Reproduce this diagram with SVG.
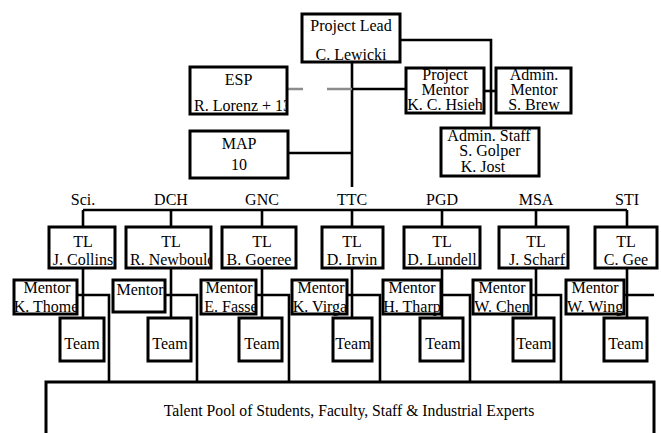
<svg xmlns="http://www.w3.org/2000/svg" width="661" height="433" viewBox="0 0 661 433">
  <style>
    .box { fill: #ffffff; stroke: none; }
    .frame { fill: none; stroke: #000000; stroke-width: 3; }
    .t { font-family: "Liberation Serif", "Times New Roman", serif; font-size: 16px; fill: #000000; text-anchor: middle; }
    .ts { text-anchor: start; }
    .ln { fill: none; stroke: #000000; stroke-width: 2.6; }
    .gray { fill: none; stroke: #8c8c8c; stroke-width: 2.6; }
  </style>
  <defs>
    <clipPath id="clip-esp"><rect x="191" y="68" width="95" height="45"/></clipPath>
    <clipPath id="clip-tl2"><rect x="127" y="228" width="83" height="39"/></clipPath>
  </defs>
  <rect width="661" height="433" fill="#ffffff"/>

  <!-- connectors -->
  <g id="connectors">
    <path class="ln" d="M400,40 H491 V128"/>
    <path class="ln" d="M352,62 V187"/>
    <path class="gray" d="M287,89 H303 M327,89 H352"/>
    <path class="ln" d="M352,89 H406"/>
    <path class="ln" d="M484,91 H496"/>
    <path class="ln" d="M288,153 H352"/>
    <!-- branch to the teams -->
    <path class="ln" d="M83,210 H627"/>
    <path class="ln" d="M83,210 V318 M171,210 V318 M262,210 V318 M352,210 V318 M442,210 V318 M536,210 V318 M627,210 V318"/>
    <!-- mentor links to the talent pool -->
    <path class="ln" d="M77,295 H109 V382 M165,295 H197 V382 M256,295 H289 V382 M347,295 H380 V382 M441,295 H470 V382 M531,295 H561 V382 M624,295 H654"/>
  </g>

  <!-- top level -->
  <g id="lead">
    <rect class="box" x="302" y="14" width="98" height="48"/>
    <text class="t" x="351" y="31">Project Lead</text>
    <text class="t" x="351" y="60">C. Lewicki</text>
    <rect class="frame" x="302" y="14" width="98" height="48"/>
  </g>
  <g id="esp">
    <rect class="box" x="190" y="67" width="97" height="47"/>
    <text class="t" x="238.5" y="85">ESP</text>
    <text class="t ts" x="194" y="111" clip-path="url(#clip-esp)">R. Lorenz + 13</text>
    <rect class="frame" x="190" y="67" width="97" height="47"/>
  </g>
  <g id="map">
    <rect class="box" x="190" y="131" width="98" height="47"/>
    <text class="t" x="239" y="149">MAP</text>
    <text class="t" x="239" y="170">10</text>
    <rect class="frame" x="190" y="131" width="98" height="47"/>
  </g>
  <g id="project-mentor">
    <rect class="box" x="406" y="68" width="78" height="45"/>
    <text class="t" x="445" y="80">Project</text>
    <text class="t" x="445" y="95">Mentor</text>
    <text class="t" x="445" y="110">K. C. Hsieh</text>
    <rect class="frame" x="406" y="68" width="78" height="45"/>
  </g>
  <g id="admin-mentor">
    <rect class="box" x="496" y="68" width="75" height="45"/>
    <text class="t" x="534" y="80">Admin.</text>
    <text class="t" x="534" y="95">Mentor</text>
    <text class="t" x="534" y="110">S. Brew</text>
    <rect class="frame" x="496" y="68" width="75" height="45"/>
  </g>
  <g id="admin-staff">
    <rect class="box" x="441" y="128" width="98" height="48"/>
    <text class="t" x="489" y="141">Admin. Staff</text>
    <text class="t" x="490" y="156">S. Golper</text>
    <text class="t" x="483" y="172">K. Jost</text>
    <rect class="frame" x="441" y="128" width="98" height="48"/>
  </g>

  <!-- group labels -->
  <g id="labels">
    <text class="t" x="83" y="205">Sci.</text>
    <text class="t" x="171" y="205">DCH</text>
    <text class="t" x="262" y="205">GNC</text>
    <text class="t" x="352" y="205">TTC</text>
    <text class="t" x="442" y="205">PGD</text>
    <text class="t" x="536" y="205">MSA</text>
    <text class="t" x="627" y="205">STI</text>
  </g>

  <!-- team leads -->
  <g id="tl-sci">
    <rect class="box" x="49" y="227" width="66" height="41"/>
    <text class="t" x="83" y="247">TL</text>
    <text class="t" x="83" y="265">J. Collins</text>
    <rect class="frame" x="49" y="227" width="66" height="41"/>
  </g>
  <g id="tl-dch">
    <rect class="box" x="126" y="227" width="85" height="41"/>
    <text class="t" x="171" y="247">TL</text>
    <text class="t ts" x="130" y="265" clip-path="url(#clip-tl2)">R. Newbould</text>
    <rect class="frame" x="126" y="227" width="85" height="41"/>
  </g>
  <g id="tl-gnc">
    <rect class="box" x="222" y="227" width="74" height="41"/>
    <text class="t" x="262" y="247">TL</text>
    <text class="t" x="259" y="265">B. Goeree</text>
    <rect class="frame" x="222" y="227" width="74" height="41"/>
  </g>
  <g id="tl-ttc">
    <rect class="box" x="322" y="227" width="61" height="41"/>
    <text class="t" x="352" y="247">TL</text>
    <text class="t" x="352" y="265">D. Irvin</text>
    <rect class="frame" x="322" y="227" width="61" height="41"/>
  </g>
  <g id="tl-pgd">
    <rect class="box" x="404" y="227" width="76" height="41"/>
    <text class="t" x="442" y="247">TL</text>
    <text class="t" x="442" y="265">D. Lundell</text>
    <rect class="frame" x="404" y="227" width="76" height="41"/>
  </g>
  <g id="tl-msa">
    <rect class="box" x="499" y="227" width="69" height="41"/>
    <text class="t" x="536" y="247">TL</text>
    <text class="t" x="537" y="265">J. Scharf</text>
    <rect class="frame" x="499" y="227" width="69" height="41"/>
  </g>
  <g id="tl-sti">
    <rect class="box" x="595" y="227" width="62" height="41"/>
    <text class="t" x="626" y="247">TL</text>
    <text class="t" x="626" y="265">C. Gee</text>
    <rect class="frame" x="595" y="227" width="62" height="41"/>
  </g>

  <!-- mentors -->
  <g id="mentor-sci">
    <rect class="box" x="14" y="280" width="63" height="34"/>
    <text class="t" x="47" y="293">Mentor</text>
    <text class="t" x="46" y="312">K. Thome</text>
    <rect class="frame" x="14" y="280" width="63" height="34"/>
  </g>
  <g id="mentor-dch">
    <rect class="box" x="113" y="280" width="52" height="32"/>
    <text class="t" x="140" y="295">Mentor</text>
    <rect class="frame" x="113" y="280" width="52" height="32"/>
  </g>
  <g id="mentor-gnc">
    <rect class="box" x="201" y="280" width="55" height="34"/>
    <text class="t" x="229" y="293">Mentor</text>
    <text class="t" x="231" y="312">E. Fasse</text>
    <rect class="frame" x="201" y="280" width="55" height="34"/>
  </g>
  <g id="mentor-ttc">
    <rect class="box" x="292" y="280" width="55" height="34"/>
    <text class="t" x="321" y="293">Mentor</text>
    <text class="t" x="320" y="312">K. Virga</text>
    <rect class="frame" x="292" y="280" width="55" height="34"/>
  </g>
  <g id="mentor-pgd">
    <rect class="box" x="383" y="280" width="58" height="34"/>
    <text class="t" x="412" y="293">Mentor</text>
    <text class="t" x="412" y="312">H. Tharp</text>
    <rect class="frame" x="383" y="280" width="58" height="34"/>
  </g>
  <g id="mentor-msa">
    <rect class="box" x="473" y="280" width="58" height="34"/>
    <text class="t" x="502" y="293">Mentor</text>
    <text class="t" x="502" y="312">W. Chen</text>
    <rect class="frame" x="473" y="280" width="58" height="34"/>
  </g>
  <g id="mentor-sti">
    <rect class="box" x="566" y="280" width="58" height="34"/>
    <text class="t" x="595" y="293">Mentor</text>
    <text class="t" x="595" y="312">W. Wing</text>
    <rect class="frame" x="566" y="280" width="58" height="34"/>
  </g>

  <!-- teams -->
  <g id="team-sci">
    <rect class="box" x="60" y="318" width="44" height="43"/>
    <text class="t" x="82" y="349">Team</text>
    <rect class="frame" x="60" y="318" width="44" height="43"/>
  </g>
  <g id="team-dch">
    <rect class="box" x="148" y="318" width="43" height="43"/>
    <text class="t" x="170" y="349">Team</text>
    <rect class="frame" x="148" y="318" width="43" height="43"/>
  </g>
  <g id="team-gnc">
    <rect class="box" x="239" y="318" width="43" height="43"/>
    <text class="t" x="262" y="349">Team</text>
    <rect class="frame" x="239" y="318" width="43" height="43"/>
  </g>
  <g id="team-ttc">
    <rect class="box" x="333" y="318" width="39" height="43"/>
    <text class="t" x="353" y="349">Team</text>
    <rect class="frame" x="333" y="318" width="39" height="43"/>
  </g>
  <g id="team-pgd">
    <rect class="box" x="420" y="318" width="43" height="43"/>
    <text class="t" x="443" y="349">Team</text>
    <rect class="frame" x="420" y="318" width="43" height="43"/>
  </g>
  <g id="team-msa">
    <rect class="box" x="513" y="318" width="41" height="43"/>
    <text class="t" x="534" y="349">Team</text>
    <rect class="frame" x="513" y="318" width="41" height="43"/>
  </g>
  <g id="team-sti">
    <rect class="box" x="604" y="318" width="43" height="43"/>
    <text class="t" x="626" y="349">Team</text>
    <rect class="frame" x="604" y="318" width="43" height="43"/>
  </g>

  <!-- talent pool, running past the bottom edge -->
  <g id="talent-pool">
    <path class="frame" d="M46,440 V382 H654 V440"/>
    <text class="t" x="349" y="416" style="font-size:15.7px">Talent Pool of Students, Faculty, Staff &amp; Industrial Experts</text>
  </g>
</svg>
